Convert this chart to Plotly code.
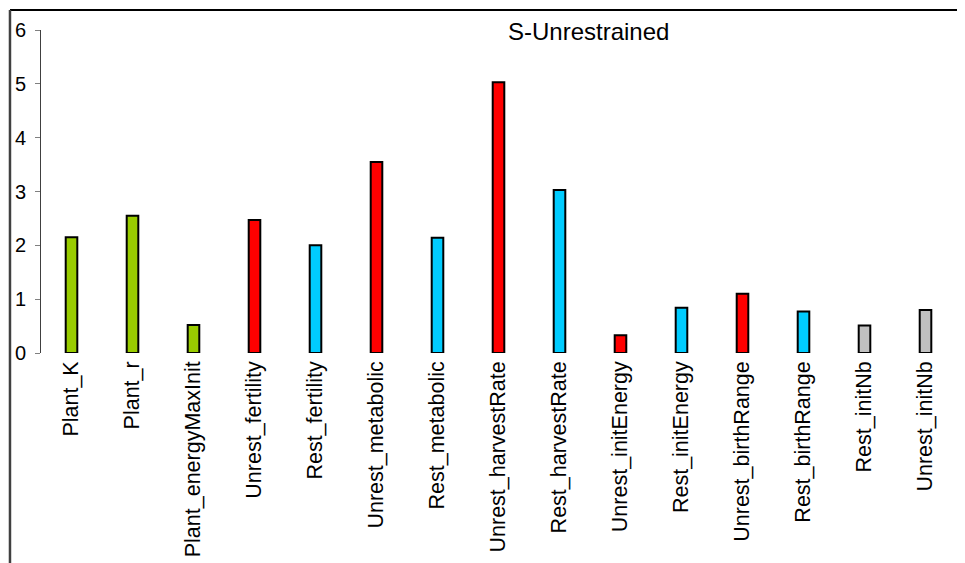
import plotly.graph_objects as go

categories = ["Plant_K", "Plant_r", "Plant_energyMaxInit", "Unrest_fertility", "Rest_fertility",
              "Unrest_metabolic", "Rest_metabolic", "Unrest_harvestRate", "Rest_harvestRate",
              "Unrest_initEnergy", "Rest_initEnergy", "Unrest_birthRange", "Rest_birthRange",
              "Rest_initNb", "Unrest_initNb"]
values = [2.15, 2.55, 0.52, 2.47, 2.0, 3.55, 2.14, 5.03, 3.03, 0.33, 0.84, 1.1, 0.77, 0.51, 0.80]
groups = ["plant", "plant", "plant", "unrest", "rest", "unrest", "rest", "unrest", "rest",
          "unrest", "rest", "unrest", "rest", "init", "init"]
group_colors = {"plant": "#99CC00", "unrest": "#FF0000", "rest": "#00CCFF", "init": "#C0C0C0"}
y_ticks = [0, 1, 2, 3, 4, 5, 6]

fig = go.Figure(go.Bar(
    x=categories, y=values,
    marker=dict(color=[group_colors[g] for g in groups], line=dict(color="black", width=2)),
))

# page body has an 8px margin, so the figure is offset by 8px right/down
fig.update_layout(
    width=965, height=563,
    margin=dict(l=33, r=17, t=22, b=218),
    plot_bgcolor="white", paper_bgcolor="white",
    bargap=0.81,
    showlegend=False,
    font=dict(family="Arial, Liberation Sans, sans-serif", size=18, color="black"),
    xaxis=dict(showline=False, ticks="", tickangle=-90, ticklabelstandoff=3,
               automargin=False, tickfont=dict(size=21.5)),
    yaxis=dict(range=[0, 6], tickvals=y_ticks, showgrid=False, zeroline=False,
               showline=True, linecolor="#404040", linewidth=1,
               ticks="outside", ticklen=5, tickcolor="#808080", automargin=False,
               ticklabelstandoff=5, tickfont=dict(size=20)),
    annotations=[dict(text="S-Unrestrained", xref="paper", yref="paper",
                      x=0.598, y=0.994, yanchor="middle", showarrow=False,
                      font=dict(size=24))],
    shapes=[
        dict(type="line", xref="paper", yref="paper", x0=-0.0339, x1=1.03, y0=1.062, y1=1.062,
             line=dict(color="black", width=2)),
        dict(type="line", xref="paper", yref="paper", x0=-0.0339, x1=-0.0339, y0=1.062, y1=-0.7,
             line=dict(color="#404040", width=2.5)),
    ],
)

fig.write_html("out.html")
